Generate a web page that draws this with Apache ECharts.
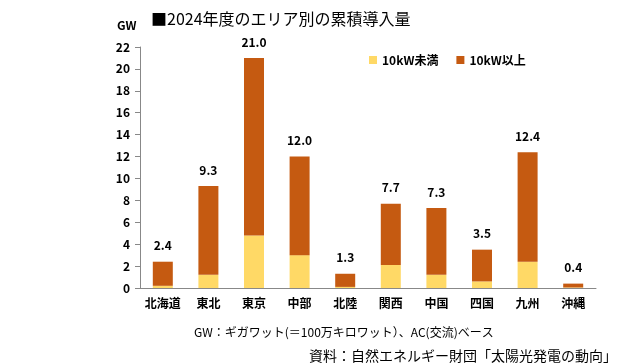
<!DOCTYPE html>
<html><head><meta charset="utf-8">
<script src="https://cdn.jsdelivr.net/npm/echarts@6/dist/echarts.min.js"></script>
<style>html,body{margin:0;padding:0;background:#fff}#c{width:640px;height:364px}</style>
</head><body><div id="c"></div>
<script>
const categories = ['北海道','東北','東京','中部','北陸','関西','中国','四国','九州','沖縄'];
const below10kW = [0.2, 1.2, 4.8, 3.0, 0.1, 2.1, 1.2, 0.6, 2.4, 0.05];
const above10kW = [2.2, 8.1, 16.2, 9.0, 1.2, 5.6, 6.1, 2.9, 10.0, 0.35];
const totals = [2.4, 9.3, 21.0, 12.0, 1.3, 7.7, 7.3, 3.5, 12.4, 0.4];
const yTicks = [0,2,4,6,8,10,12,14,16,18,20,22];

const FONT = '"Noto Sans CJK JP", "Noto Sans", sans-serif';
const chart = echarts.init(document.getElementById('c'), null, {renderer:'canvas'});
chart.setOption({
  backgroundColor:'#fff',
  animation:false,
  textStyle:{fontFamily:FONT},
  title:[
    {text:'■2024年度のエリア別の累積導入量', left:146, top:6, textStyle:{fontSize:16, fontWeight:'normal', color:'#000', fontFamily:FONT}},
    {text:'GW', left:112, top:14, textStyle:{fontSize:12, fontWeight:'bold', color:'#000', fontFamily:FONT}},
    {text:'GW：ギガワット(＝100万キロワット）、AC(交流)ベース', left:189, top:321, textStyle:{fontSize:12, fontWeight:'normal', color:'#000', fontFamily:FONT}},
    {text:'資料：自然エネルギー財団「太陽光発電の動向」', left:304, top:344, textStyle:{fontSize:14, fontWeight:'normal', color:'#000', fontFamily:FONT}}
  ],
  legend:{
    top:49, left:364, itemWidth:8, itemHeight:8, itemGap:18, icon:'rect',
    textStyle:{fontSize:12, fontWeight:'bold', color:'#000', fontFamily:FONT},
    data:['10kW未満','10kW以上']
  },
  grid:{left:140, right:44, top:47, bottom:76, containLabel:false},
  xAxis:{
    type:'category', data:categories,
    axisLine:{lineStyle:{color:'#888'}},
    axisTick:{show:false},
    axisLabel:{interval:0, fontSize:12, fontWeight:'bold', color:'#000', margin:9, fontFamily:FONT}
  },
  yAxis:{
    type:'value', min:0, max:22, interval:2,
    axisLine:{show:true, lineStyle:{color:'#888'}},
    axisTick:{show:true, length:5, lineStyle:{color:'#888'}},
    splitLine:{show:false},
    axisLabel:{fontSize:12, fontWeight:'bold', color:'#000', margin:10, fontFamily:FONT,
      formatter:v=> yTicks.includes(v)? String(v):''}
  },
  series:[
    {name:'10kW未満', type:'bar', stack:'a', data:below10kW, barWidth:20,
      itemStyle:{color:'#FFD966'}},
    {name:'10kW以上', type:'bar', stack:'a', data:above10kW, barWidth:20,
      itemStyle:{color:'#C55A11'},
      label:{show:true, position:'top', distance:10, fontSize:12, fontWeight:'bold', color:'#000', fontFamily:FONT,
        formatter:p=>totals[p.dataIndex].toFixed(1)}}
  ]
});
</script></body></html>
